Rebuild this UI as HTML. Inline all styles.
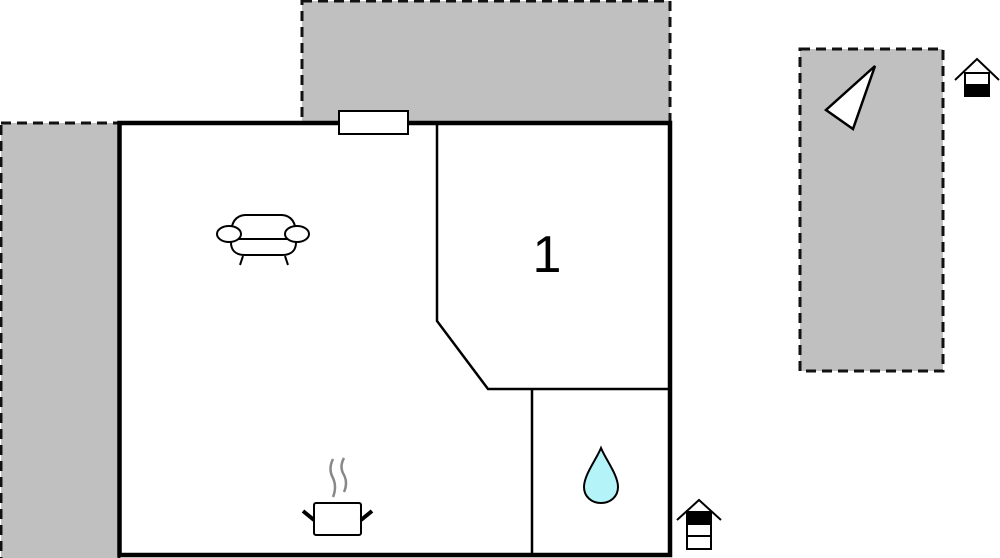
<!DOCTYPE html>
<html><head><meta charset="utf-8"><style>html,body{margin:0;padding:0;background:#fff;}svg{display:block}</style></head>
<body>
<svg width="1000" height="558" viewBox="0 0 1000 558" xmlns="http://www.w3.org/2000/svg">
<g fill="#c0c0c0" stroke="#111" stroke-width="3" stroke-dasharray="10,6">
<rect x="302" y="1" width="368" height="122"/>
<rect x="1" y="123" width="118" height="440"/>
<rect x="800" y="49" width="143" height="322"/>
</g>
<rect x="119.5" y="123" width="550.5" height="432" fill="#fff" stroke="#000" stroke-width="4.5"/>
<rect x="339" y="111" width="69" height="23" fill="#fff" stroke="#000" stroke-width="2"/>
<polyline points="437,123 437,321 488,389 670,389" fill="none" stroke="#000" stroke-width="2.5"/>
<line x1="532" y1="389" x2="532" y2="555" stroke="#000" stroke-width="2.5"/>
<text x="547" y="272" font-family="Liberation Sans, sans-serif" font-size="52" text-anchor="middle" fill="#000">1</text>
<!-- sofa -->
<g fill="#fff" stroke="#000" stroke-width="2">
<path d="M231,238 Q230,216 245,215 L282,215 Q297,216 296,238 L296,240 Q297,255 282,255 L245,255 Q230,255 231,240 Z"/>
<line x1="232" y1="239" x2="295" y2="239"/>
<ellipse cx="229" cy="234" rx="12" ry="8"/>
<ellipse cx="297" cy="234" rx="12" ry="8"/>
<line x1="243" y1="256" x2="240" y2="265"/>
<line x1="285" y1="256" x2="288" y2="265"/>
</g>
<!-- pot -->
<g>
<path d="M333,459 q-5,10 0,19 q4,9 0,19" fill="none" stroke="#888" stroke-width="2.5"/>
<path d="M344,458 q-5,9 0,17 q4,8 0,17" fill="none" stroke="#888" stroke-width="2.5"/>
<rect x="314" y="503" width="47" height="32" rx="2" fill="#fff" stroke="#000" stroke-width="2"/>
<line x1="303" y1="511" x2="314" y2="520" stroke="#000" stroke-width="4"/>
<line x1="372" y1="511" x2="361" y2="520" stroke="#000" stroke-width="4"/>
</g>
<!-- drop -->
<path d="M601,448 C596,460 584,475 584,487 C584,497 592,503 601,503 C610,503 618,497 618,487 C618,475 606,460 601,448 Z" fill="#b4f4f8" stroke="#000" stroke-width="2"/>
<!-- house bottom -->
<g stroke="#000" stroke-width="2" fill="none">
<polyline points="677,520 699,500 721,520"/>
<rect x="687" y="512" width="24" height="37" fill="#fff"/>
<rect x="687" y="512" width="24" height="12" fill="#000"/>
<line x1="687" y1="536" x2="711" y2="536"/>
</g>
<!-- house top right -->
<g stroke="#000" stroke-width="2" fill="none">
<polyline points="955,80 977,59 999,80"/>
<rect x="965" y="73" width="24" height="23" fill="#fff"/>
<rect x="965" y="85" width="24" height="11" fill="#000"/>
</g>
<!-- triangle -->
<polygon points="875,66 826,110 853,129" fill="#fff" stroke="#000" stroke-width="2.5"/>
</svg>
</body></html>
